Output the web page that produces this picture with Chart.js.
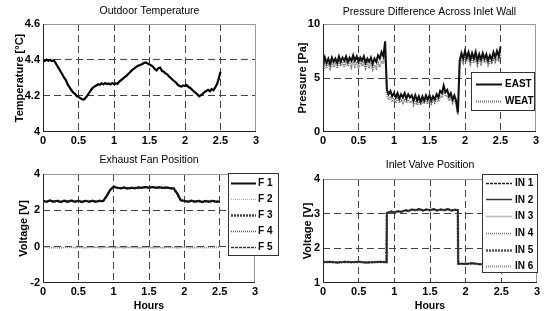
<!DOCTYPE html>
<html><head><meta charset="utf-8">
<script src="https://cdn.jsdelivr.net/npm/chart.js@4/dist/chart.umd.min.js"></script>
<style>
html,body{margin:0;padding:0;background:#fff;width:549px;height:311px;overflow:hidden}
canvas{position:absolute;left:0;top:0}
</style></head><body>
<canvas id="cTL" width="549" height="311"></canvas>
<canvas id="cTR" width="549" height="311"></canvas>
<canvas id="cBL" width="549" height="311"></canvas>
<canvas id="cBR" width="549" height="311"></canvas>
<script>
// ---------------- DATA ----------------
const xTicks = [0, 0.5, 1, 1.5, 2, 2.5, 3];
const tempTicks = [4, 4.2, 4.4, 4.6];
const pressTicks = [0, 5, 10];
const fanTicks = [-2, 0, 2, 4];
const valveTicks = [1, 2, 3, 4];

const hours = [0,0.025,0.05,0.075,0.1,0.125,0.15,0.175,0.2,0.225,0.25,0.275,0.3,0.325,0.35,0.375,0.4,0.425,0.45,0.475,
0.5,0.525,0.55,0.575,0.6,0.625,0.65,0.675,0.7,0.725,0.75,0.775,0.8,0.825,0.85,0.875,0.9,0.925,0.95,0.975,
1,1.025,1.05,1.075,1.1,1.125,1.15,1.175,1.2,1.225,1.25,1.275,1.3,1.325,1.35,1.375,1.4,1.425,1.45,1.475,
1.5,1.525,1.55,1.575,1.6,1.625,1.65,1.675,1.7,1.725,1.75,1.775,1.8,1.825,1.85,1.875,1.9,1.925,1.95,1.975,
2,2.025,2.05,2.075,2.1,2.125,2.15,2.175,2.2,2.225,2.25,2.275,2.3,2.325,2.35,2.375,2.4,2.425,2.45,2.475,2.5];

const tempC = [4.400,4.395,4.402,4.396,4.401,4.394,4.398,4.385,4.368,4.352,4.335,4.318,4.300,4.286,4.262,4.248,4.232,4.220,4.212,4.200,
4.195,4.188,4.182,4.180,4.190,4.202,4.218,4.232,4.245,4.252,4.258,4.265,4.262,4.270,4.265,4.272,4.266,4.270,4.264,4.272,
4.266,4.270,4.268,4.280,4.288,4.296,4.305,4.312,4.322,4.332,4.342,4.350,4.358,4.365,4.370,4.374,4.378,4.384,4.386,4.380,
4.375,4.370,4.362,4.350,4.342,4.355,4.358,4.340,4.335,4.326,4.320,4.308,4.300,4.290,4.282,4.274,4.262,4.255,4.252,4.258,
4.255,4.260,4.250,4.245,4.235,4.225,4.218,4.208,4.198,4.205,4.212,4.222,4.228,4.234,4.226,4.238,4.232,4.248,4.265,4.295,4.335];

const eastPa = [6.2,6.9,6.4,6.8,6.3,6.9,6.5,6.8,6.4,7.0,6.5,6.9,6.6,7.0,6.5,6.9,6.6,7.1,6.6,7.0,
6.5,6.9,6.6,7.0,6.4,6.8,6.5,6.9,6.3,6.8,6.5,7.1,6.8,7.4,7.0,8.4,3.9,3.5,3.8,3.3,
3.6,3.2,3.6,3.1,3.5,3.2,3.6,3.1,3.5,3.2,3.4,2.9,3.4,2.9,3.3,2.8,3.3,2.9,3.4,3.0,
3.4,2.9,3.3,3.0,3.5,3.2,3.8,3.6,4.3,3.7,3.9,3.3,3.6,3.0,3.4,2.9,1.8,6.6,7.3,6.8,
7.5,6.9,7.4,6.7,7.3,6.8,7.4,6.6,7.2,6.7,7.3,6.8,7.2,6.6,7.1,6.7,7.4,6.9,7.5,7.0,7.9];

const weatPa = [5.5,6.3,5.9,6.4,5.9,6.4,6.0,6.5,5.9,6.5,6.1,6.5,6.0,6.6,6.1,6.5,6.0,6.6,6.1,6.5,
6.0,6.5,6.1,6.4,5.9,6.4,5.9,6.3,5.8,6.2,5.9,6.4,6.0,6.6,6.3,7.8,3.4,3.0,3.3,2.8,
3.1,2.7,3.1,2.7,3.0,2.7,3.1,2.7,3.0,2.7,2.9,2.5,2.9,2.5,2.9,2.5,2.9,2.6,3.0,2.6,
2.9,2.6,2.9,2.7,3.1,2.8,3.3,3.2,3.7,3.3,3.4,2.9,3.2,2.7,3.0,2.6,1.6,6.2,6.8,6.4,
7.0,6.5,6.9,6.3,6.8,6.4,6.9,6.2,6.7,6.3,6.8,6.4,6.7,6.2,6.6,6.3,6.9,6.5,6.9,6.5,7.2];

const fanHours = [0,0.05,0.1,0.15,0.2,0.25,0.3,0.35,0.4,0.45,0.5,0.55,0.6,0.65,0.7,0.75,0.8,0.85,0.9,0.95,
1,1.05,1.1,1.15,1.2,1.25,1.3,1.35,1.4,1.45,1.5,1.55,1.6,1.65,1.7,1.75,1.8,1.85,1.9,1.95,
2,2.05,2.1,2.15,2.2,2.25,2.3,2.35,2.4,2.45,2.5];
const fanHigh = [2.52,2.47,2.54,2.48,2.53,2.46,2.52,2.47,2.54,2.48,2.52,2.46,2.53,2.48,2.52,2.47,2.53,2.50,2.78,3.12,
3.30,3.24,3.21,3.25,3.20,3.24,3.22,3.26,3.24,3.28,3.25,3.28,3.24,3.27,3.23,3.26,3.22,3.20,2.92,2.55,
2.52,2.47,2.53,2.48,2.52,2.46,2.51,2.48,2.52,2.47,2.49];
const fanLow = [-0.05,-0.03,-0.06,-0.04,-0.05,-0.07,-0.04,-0.05,-0.03,-0.06,-0.02,-0.05,-0.06,-0.04,-0.05,-0.03,-0.06,-0.05,-0.04,-0.03,
-0.06,-0.05,-0.04,-0.06,-0.03,-0.05,-0.04,-0.06,-0.05,-0.03,-0.04,-0.06,-0.05,-0.04,-0.06,-0.03,-0.05,-0.04,-0.06,-0.05,
-0.03,-0.05,-0.06,-0.04,-0.05,-0.03,-0.06,-0.04,-0.05,-0.04,-0.03];

const valveHours = [0,0.1,0.2,0.3,0.4,0.5,0.6,0.7,0.8,0.89,0.895,0.95,1,1.05,1.1,1.15,1.2,1.25,1.3,1.35,
1.4,1.45,1.5,1.55,1.6,1.65,1.7,1.75,1.8,1.85,1.89,1.895,2,2.1,2.2,2.3,2.4,2.5];
const valveV = [1.60,1.61,1.59,1.61,1.60,1.61,1.59,1.60,1.61,1.60,3.02,3.06,3.04,3.07,3.05,3.10,3.08,3.12,3.10,3.13,
3.09,3.12,3.10,3.13,3.09,3.12,3.10,3.13,3.09,3.11,3.10,1.56,1.55,1.57,1.54,1.56,1.55,1.56];

// ---------------- RENDER ----------------
const FAM = '"Liberation Sans", Arial, sans-serif';
const pts = (xs, ys) => xs.map((x, i) => ({x: x, y: ys[i]}));
const near = (a, b) => Math.abs(a - b) < 1e-9;
function gridColor(c) {
  const s = c.scale, v = c.tick ? c.tick.value : NaN;
  return (near(v, s.min) || near(v, s.max)) ? 'rgba(0,0,0,0)' : '#444';
}
const fmt = v => String(Math.round(v * 10) / 10);

const deco = {
  id: 'deco',
  afterDraw(chart, args, o) {
    const ctx = chart.ctx, a = chart.chartArea;
    ctx.save();
    ctx.lineWidth = 1;
    ctx.strokeStyle = '#999';
    ctx.beginPath();
    ctx.moveTo(a.left, a.top + 0.5); ctx.lineTo(a.right, a.top + 0.5);
    ctx.moveTo(a.right - 0.5, a.top); ctx.lineTo(a.right - 0.5, a.bottom);
    ctx.stroke();
    ctx.strokeStyle = '#222';
    ctx.beginPath();
    ctx.moveTo(a.left + 0.5, a.top); ctx.lineTo(a.left + 0.5, a.bottom);
    ctx.moveTo(a.left, a.bottom - 0.5); ctx.lineTo(a.right, a.bottom - 0.5);
    ctx.stroke();
    ctx.fillStyle = '#000';
    ctx.font = '10.5px ' + FAM;
    ctx.textAlign = 'center';
    ctx.textBaseline = 'middle';
    ctx.fillText(o.title, (a.left + a.right) / 2, o.titleY);
    const L = o.legend;
    if (L) {
      ctx.fillStyle = '#fff';
      ctx.fillRect(L.x, L.y, L.w, L.h);
      ctx.strokeStyle = '#333';
      ctx.strokeRect(L.x + 0.5, L.y + 0.5, L.w, L.h);
      ctx.font = 'bold 10px ' + FAM;
      ctx.textAlign = 'left';
      chart.data.datasets.forEach((d, i) => {
        const y = L.firstY + i * L.rowH;
        ctx.save();
        ctx.strokeStyle = d.borderColor;
        ctx.lineWidth = d.borderWidth;
        ctx.setLineDash(d.borderDash || []);
        ctx.beginPath();
        ctx.moveTo(L.s0, Math.round(y) + 0.5); ctx.lineTo(L.s1, Math.round(y) + 0.5);
        ctx.stroke();
        ctx.restore();
        ctx.fillStyle = '#000';
        ctx.fillText(d.label, L.tx, y + 0.5);
      });
    }
    ctx.restore();
  }
};

function makeChart(id, c) {
  return new Chart(document.getElementById(id), {
    type: 'line',
    data: {datasets: c.datasets.map(d => Object.assign({pointRadius: 0, tension: 0, fill: false}, d))},
    options: {
      responsive: false, animation: false, events: [],
      layout: {padding: c.pad},
      plugins: {legend: {display: false}, tooltip: {enabled: false}, title: {display: false}, deco: c.deco},
      scales: {
        x: {
          type: 'linear', min: 0, max: 3,
          afterFit: s => { s.height = c.xH; },
          afterBuildTicks: s => { s.ticks = xTicks.map(v => ({value: v})); },
          ticks: {font: {family: FAM, size: 11, weight: 'bold'}, color: '#000', padding: 2, maxRotation: 0, autoSkip: false, callback: fmt},
          grid: {color: gridColor, lineWidth: 1, drawTicks: false},
          border: {display: false, dash: [7, 4]},
          title: c.xTitle ? {display: true, text: c.xTitle, color: '#000', font: {family: FAM, size: 10.5, weight: 'bold', lineHeight: 1}, padding: {top: 0, bottom: 0}} : {display: false}
        },
        y: {
          type: 'linear', min: c.yTicks[0], max: c.yTicks[c.yTicks.length - 1],
          afterFit: s => { s.width = 43; },
          afterBuildTicks: s => { s.ticks = c.yTicks.map(v => ({value: v})); },
          ticks: {font: {family: FAM, size: 11, weight: 'bold'}, color: '#000', padding: 3, autoSkip: false, callback: fmt},
          grid: {color: gridColor, lineWidth: 1, drawTicks: false},
          border: {display: false, dash: [7, 4]},
          title: {display: true, text: c.yTitle, color: '#000', font: {family: FAM, size: 11, weight: 'bold', lineHeight: 1.2}, padding: {top: c.yTitlePad, bottom: 0}}
        }
      }
    },
    plugins: [deco]
  });
}

makeChart('cTL', {
  pad: {left: 0, right: 293, top: 24, bottom: 159}, xH: 20,
  yTicks: tempTicks, yTitle: 'Temperature [°C]', yTitlePad: 13.4,
  deco: {title: 'Outdoor Temperature', titleY: 11},
  datasets: [{label: 'Temperature', data: pts(hours, tempC), borderColor: '#000', borderWidth: 2.2}]
});

makeChart('cTR', {
  pad: {left: 280, right: 13, top: 24, bottom: 159}, xH: 20,
  yTicks: pressTicks, yTitle: 'Pressure [Pa]', yTitlePad: 16.4,
  deco: {title: 'Pressure Difference Across Inlet Wall', titleY: 12,
         legend: {x: 471, y: 72, w: 63, h: 38, firstY: 84, rowH: 17, s0: 476, s1: 502, tx: 505}},
  datasets: [
    {label: 'EAST', data: pts(hours, eastPa), borderColor: '#111', borderWidth: 2},
    {label: 'WEAT', data: pts(hours, weatPa), borderColor: '#777', borderWidth: 2, borderDash: [1, 1]}
  ]
});

makeChart('cBL', {
  pad: {left: 0, right: 294, top: 174, bottom: 0}, xH: 28, xTitle: 'Hours',
  yTicks: fanTicks, yTitle: 'Voltage [V]', yTitlePad: 17.4,
  deco: {title: 'Exhaust Fan Position', titleY: 160,
         legend: {x: 228, y: 173, w: 50, h: 82, firstY: 182.7, rowH: 16, s0: 231, s1: 256, tx: 258}},
  datasets: [
    {label: 'F 1', data: pts(fanHours, fanHigh), borderColor: '#111', borderWidth: 2},
    {label: 'F 2', data: pts(fanHours, fanLow), borderColor: '#aaa', borderWidth: 1, borderDash: [1, 1]},
    {label: 'F 3', data: pts(fanHours, fanHigh), borderColor: '#444', borderWidth: 2.5, borderDash: [2, 1]},
    {label: 'F 4', data: pts(fanHours, fanLow), borderColor: '#555', borderWidth: 1.5, borderDash: [1, 1]},
    {label: 'F 5', data: pts(fanHours, fanHigh), borderColor: '#333', borderWidth: 1.5, borderDash: [3, 1]}
  ]
});

makeChart('cBR', {
  pad: {left: 280, right: 12, top: 179, bottom: 0}, xH: 28, xTitle: 'Hours',
  yTicks: valveTicks, yTitle: 'Voltage [V]', yTitlePad: 21.4,
  deco: {title: 'Inlet Valve Position', titleY: 165,
         legend: {x: 482, y: 174, w: 55, h: 98, firstY: 182.7, rowH: 16.7, s0: 486, s1: 512, tx: 515}},
  datasets: [
    {label: 'IN 1', data: pts(valveHours, valveV), borderColor: '#222', borderWidth: 1.5, borderDash: [3, 1]},
    {label: 'IN 2', data: pts(valveHours, valveV), borderColor: '#333', borderWidth: 1.5},
    {label: 'IN 3', data: pts(valveHours, valveV), borderColor: '#bbb', borderWidth: 1.5},
    {label: 'IN 4', data: pts(valveHours, valveV), borderColor: '#777', borderWidth: 1.5, borderDash: [1, 1]},
    {label: 'IN 5', data: pts(valveHours, valveV), borderColor: '#555', borderWidth: 2.5, borderDash: [2, 1]},
    {label: 'IN 6', data: pts(valveHours, valveV), borderColor: '#888', borderWidth: 2, borderDash: [1, 1]}
  ]
});
</script>
</body></html>
